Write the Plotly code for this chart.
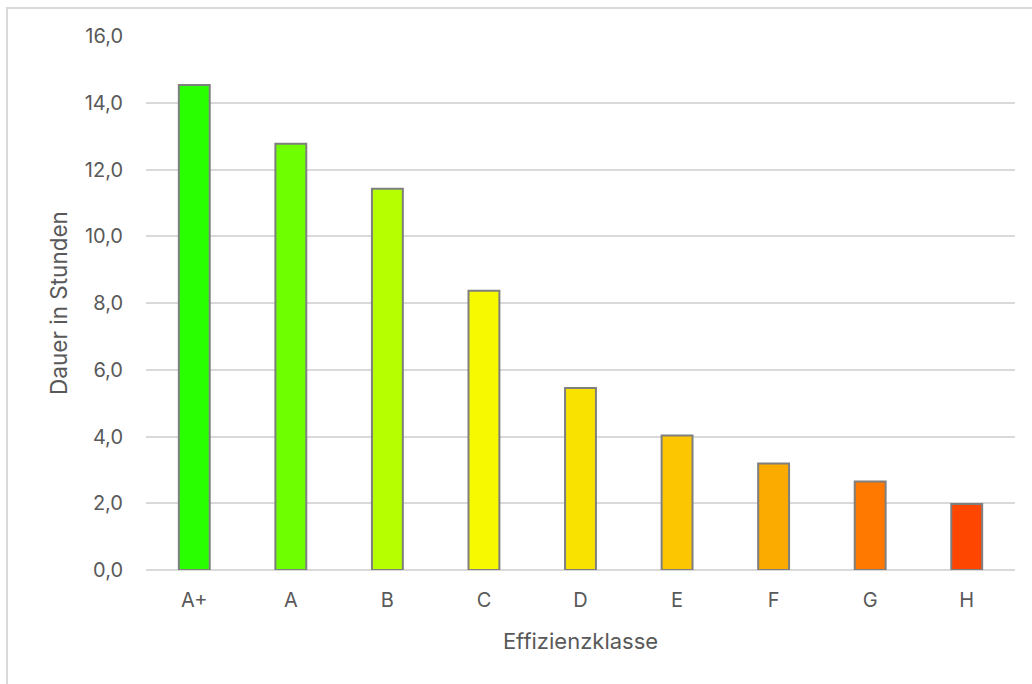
import plotly.graph_objects as go

# Efficiency classes and their duration in hours
klassen = ["A+", "A", "B", "C", "D", "E", "F", "G", "H"]
dauer_stunden = [14.53, 12.77, 11.42, 8.37, 5.45, 4.03, 3.19, 2.65, 1.98]
farben = ["#2AFF00", "#6EFF00", "#B6FF00", "#F6F900", "#FAE200", "#FCC700",
          "#FBAA00", "#FF7800", "#FF4600"]
y_ticks = [0, 2, 4, 6, 8, 10, 12, 14, 16]

W, H = 1032, 684
L, R, T, B = 146, 17, 36, 114
pw, ph = W - L - R, H - T - B

text_color = "#595959"
grid_color = "#D9D9D9"
font_family = "Inter, 'Noto Sans', sans-serif"

fig = go.Figure(go.Bar(
    x=klassen,
    y=dauer_stunden,
    width=0.32,
    marker=dict(color=farben, line=dict(color="#7F7F7F", width=2)),
    hoverinfo="x+y",
))

# light frame around the whole chart
fig.add_shape(
    type="rect", xref="paper", yref="paper", layer="below",
    x0=(7 - L) / pw, x1=(W + 10 - L) / pw,
    y0=(T + ph - (H + 10)) / ph, y1=(T + ph - 8) / ph,
    line=dict(color=grid_color, width=2), fillcolor="rgba(0,0,0,0)",
)

fig.update_layout(
    width=W, height=H,
    margin=dict(l=L, r=R, t=T, b=B, pad=0),
    paper_bgcolor="white", plot_bgcolor="white",
    separators=",.",
    font=dict(family=font_family, color=text_color, size=20),
    showlegend=False,
    xaxis=dict(
        title=dict(text="Effizienzklasse", font=dict(size=22, color=text_color), standoff=22),
        showgrid=False, showline=False, zeroline=False,
        ticks="", ticklabelstandoff=16,
        tickfont=dict(size=20, color=text_color),
    ),
    yaxis=dict(
        title=dict(text="Dauer in Stunden", font=dict(size=22.5, color=text_color), standoff=10),
        range=[0, 16], tickvals=y_ticks, tickformat=".1f",
        showgrid=True, gridcolor=grid_color, gridwidth=2,
        zeroline=True, zerolinecolor=grid_color, zerolinewidth=2,
        showline=False, ticks="", ticklabelstandoff=22,
        tickfont=dict(size=20, color=text_color),
    ),
)

fig.write_html("out.html")
